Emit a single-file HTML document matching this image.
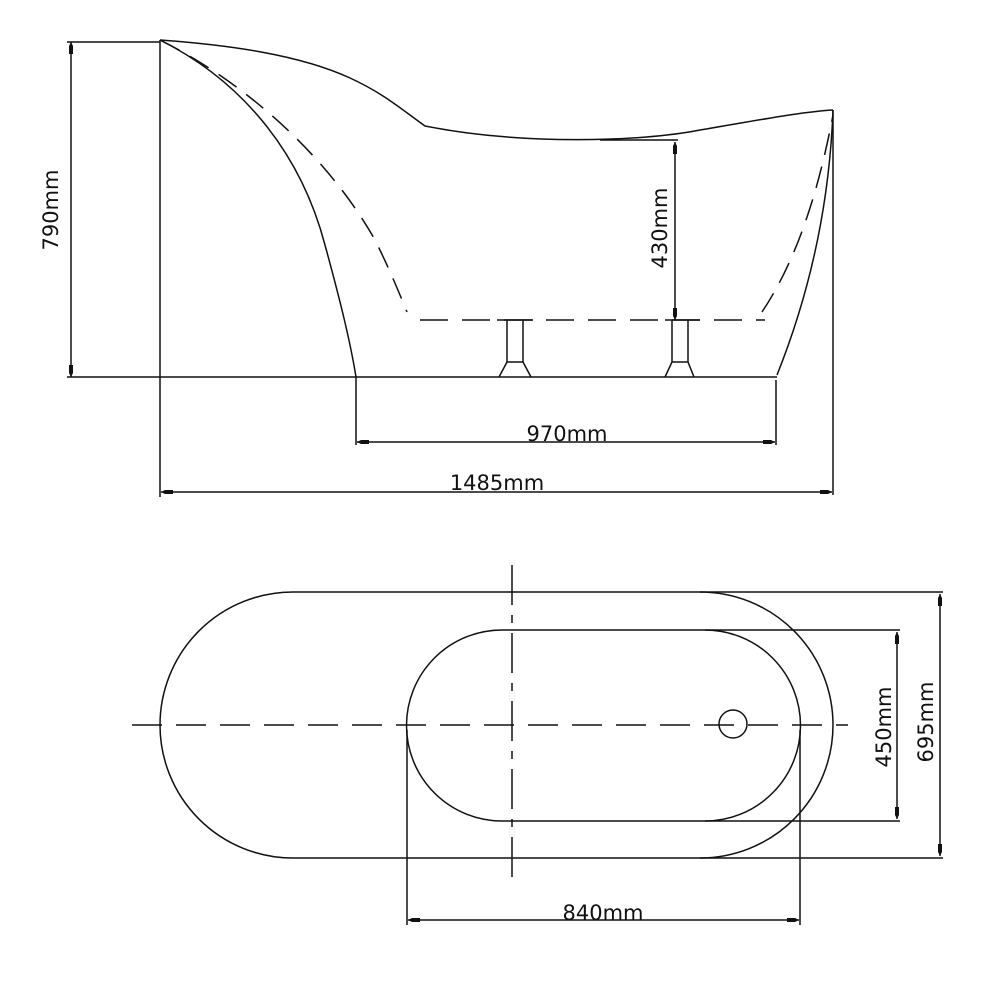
<!DOCTYPE html>
<html><head><style>
html,body{margin:0;padding:0;background:#fff;width:1000px;height:1000px;overflow:hidden}
text{font-family:"DejaVu Sans","Liberation Sans",sans-serif;font-size:21px;fill:#111}
</style></head><body>
<svg width="1000" height="1000" viewBox="0 0 1000 1000" xmlns="http://www.w3.org/2000/svg">
<defs>
<marker id="a" viewBox="0 0 12 6" refX="12" refY="3" markerWidth="12" markerHeight="6" orient="auto-start-reverse" markerUnits="userSpaceOnUse">
<path d="M12,3 L8,1 L0,1 L0,5 L8,5 Z" fill="#111"/>
</marker>
</defs>
<g fill="none" stroke="#111" stroke-width="1.5">
<line x1="160" y1="40" x2="160" y2="497"/>
<line x1="67" y1="42" x2="160" y2="42"/>
<line x1="67" y1="377" x2="777" y2="377"/>
<line x1="71" y1="42" x2="71" y2="377" marker-start="url(#a)" marker-end="url(#a)"/>
<path d="M160,40 C230,45 300,55 350,78 C385,94 405,112 425,126 C520,145 640,142 700,130 C760,120 800,112 833,110"/>
<path d="M160,40 C240,80 300,150 325,245 C340,300 350,340 356,377"/>
<path d="M160,40 C250,85 330,160 375,240 C390,270 400,295 407,312" stroke-dasharray="22,12"/>
<line x1="420" y1="320" x2="765" y2="320" stroke-dasharray="28,14"/>
<path d="M762,312 C790,270 815,210 833,115" stroke-dasharray="22,12"/>
<path d="M833,110 C830,190 815,280 777,375"/>
<path d="M507,320 V362 L499,377 M523,320 V362 L531,377 M507,362 H523"/>
<path d="M672,320 V362 L665,377 M688,320 V362 L694,377 M672,362 H688"/>
<line x1="497" y1="320" x2="533" y2="320"/>
<line x1="665" y1="320" x2="700" y2="320"/>
<line x1="600" y1="140" x2="678" y2="140"/>
<line x1="675" y1="142" x2="675" y2="320" marker-start="url(#a)" marker-end="url(#a)"/>
<line x1="356" y1="377" x2="356" y2="445"/>
<line x1="776" y1="380" x2="776" y2="445"/>
<line x1="357" y1="442" x2="775" y2="442" marker-start="url(#a)" marker-end="url(#a)"/>
<line x1="833" y1="110" x2="833" y2="495"/>
<line x1="161" y1="492" x2="832" y2="492" marker-start="url(#a)" marker-end="url(#a)"/>

<path d="M293,592 H700 A133,133 0 0 1 700,858 H293 A133,133 0 0 1 293,592 Z"/>
<line x1="700" y1="592" x2="943" y2="592"/>
<line x1="700" y1="858" x2="943" y2="858"/>
<path d="M502,630 H705 A95.5,95.5 0 0 1 705,821 H502 A95.5,95.5 0 0 1 502,630 Z"/>
<line x1="705" y1="630" x2="900" y2="630"/>
<line x1="705" y1="821" x2="900" y2="821"/>
<line x1="132" y1="725" x2="848" y2="725" stroke-dasharray="30,14"/>
<line x1="512" y1="565" x2="512" y2="885" stroke-dasharray="40,10,8,10"/>
<circle cx="733" cy="724" r="14"/>
<line x1="897" y1="632" x2="897" y2="819" marker-start="url(#a)" marker-end="url(#a)"/>
<line x1="940" y1="594" x2="940" y2="856" marker-start="url(#a)" marker-end="url(#a)"/>
<line x1="407" y1="730" x2="407" y2="925"/>
<line x1="800" y1="730" x2="800" y2="925"/>
<line x1="408" y1="920" x2="799" y2="920" marker-start="url(#a)" marker-end="url(#a)"/>
</g>
<text x="58" y="210" text-anchor="middle" transform="rotate(-90 58 210)">790mm</text>
<text x="667" y="228" text-anchor="middle" transform="rotate(-90 667 228)">430mm</text>
<text x="567" y="441" text-anchor="middle">970mm</text>
<text x="497" y="490" text-anchor="middle">1485mm</text>
<text x="891" y="727" text-anchor="middle" transform="rotate(-90 891 727)">450mm</text>
<text x="933" y="722" text-anchor="middle" transform="rotate(-90 933 722)">695mm</text>
<text x="603" y="920" text-anchor="middle">840mm</text>
</svg>
</body></html>
